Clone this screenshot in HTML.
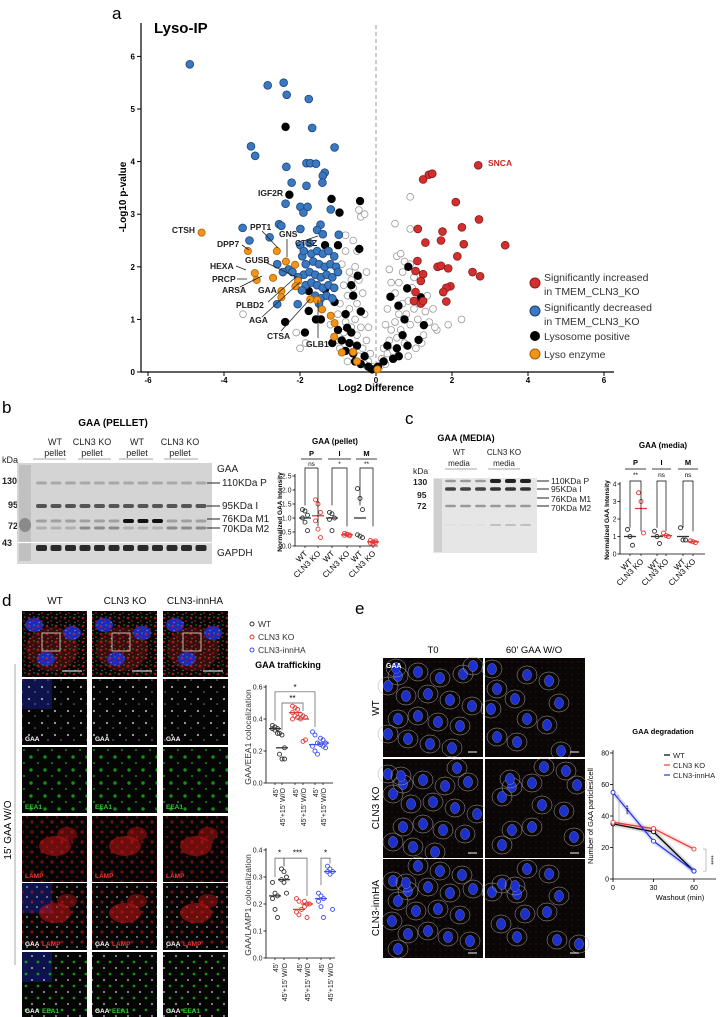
<!DOCTYPE html>
<html><head><meta charset="utf-8">
<style>
html,body{margin:0;padding:0;background:#fff;}
svg{display:block;font-family:"Liberation Sans",sans-serif;}
.b{font-weight:bold}
</style></head>
<body>
<svg id="fig" width="725" height="1017" viewBox="0 0 725 1017" xmlns="http://www.w3.org/2000/svg">
<defs>
  <pattern id="pRed" width="9" height="8" patternUnits="userSpaceOnUse"><circle cx="2" cy="2" r="1.3" fill="#e02020"/><circle cx="6" cy="5" r="1" fill="#b01818"/><circle cx="7" cy="1" r="0.7" fill="#4c4"/><circle cx="3" cy="6.5" r="0.6" fill="#ddd"/></pattern>
  <pattern id="pGreen" width="14" height="13" patternUnits="userSpaceOnUse"><circle cx="3" cy="3" r="1.7" fill="#19c019"/><circle cx="10" cy="9" r="1.1" fill="#13a013"/></pattern>
  <pattern id="pWhite" width="13" height="12" patternUnits="userSpaceOnUse"><circle cx="3" cy="3" r="1.1" fill="#cfcfcf"/><circle cx="9" cy="8" r="0.8" fill="#999"/></pattern>
  <pattern id="pLamp" width="10" height="10" patternUnits="userSpaceOnUse"><circle cx="2" cy="2" r="1.6" fill="#d31818"/><circle cx="7" cy="7" r="1.2" fill="#a51010"/></pattern>
  <pattern id="pMerge1" width="10" height="10" patternUnits="userSpaceOnUse"><circle cx="2" cy="2" r="1.5" fill="#d31818"/><circle cx="7" cy="7" r="1" fill="#ddd"/></pattern>
  <pattern id="pMerge2" width="12" height="12" patternUnits="userSpaceOnUse"><circle cx="2" cy="2" r="1.4" fill="#19c019"/><circle cx="8" cy="8" r="1" fill="#ddd"/></pattern>
  <pattern id="pCells" width="6" height="6" patternUnits="userSpaceOnUse"><circle cx="2" cy="2" r="0.5" fill="#7a3a3a"/></pattern>
</defs>

<!-- ================= PANEL A ================= -->
<text x="112" y="19" font-size="17">a</text>
<text x="154" y="33" font-size="15" class="b">Lyso-IP</text>
<line x1="141" y1="23" x2="141" y2="372" stroke="#000" stroke-width="1.2"/>
<line x1="141" y1="372" x2="614" y2="372" stroke="#000" stroke-width="1.2"/>
<line x1="376" y1="25" x2="376" y2="372" stroke="#aaa" stroke-width="1.2" stroke-dasharray="4,3"/>
<text transform="translate(126,197) rotate(-90)" font-size="10" class="b" text-anchor="middle">-Log10 p-value</text>
<text x="376" y="391" font-size="10" class="b" text-anchor="middle">Log2 Difference</text>
<g id="vAxes"></g>
<g id="vPoints"></g>
<g id="vLabels" font-size="8.5" font-weight="bold" fill="#222">
  <text x="283" y="196" text-anchor="end">IGF2R</text>
  <text x="195" y="233" text-anchor="end">CTSH</text>
  <text x="250" y="230">PPT1</text>
  <text x="279" y="237">GNS</text>
  <text x="295" y="246">CTSZ</text>
  <text x="217" y="247">DPP7</text>
  <text x="245" y="263">GUSB</text>
  <text x="210" y="269">HEXA</text>
  <text x="212" y="282">PRCP</text>
  <text x="222" y="293">ARSA</text>
  <text x="258" y="293">GAA</text>
  <text x="236" y="308">PLBD2</text>
  <text x="249" y="323">AGA</text>
  <text x="267" y="339">CTSA</text>
  <text x="306" y="347">GLB1</text>
  <text x="488" y="166" fill="#c62828">SNCA</text>
</g>
<g stroke="#222" stroke-width="0.8">
  <line x1="262" y1="231" x2="278" y2="248"/><line x1="287" y1="239" x2="287" y2="257"/><line x1="242" y1="245" x2="249" y2="250"/>
  <line x1="236" y1="266" x2="246" y2="270"/><line x1="237" y1="279" x2="247" y2="279"/><line x1="240" y1="287" x2="262" y2="276"/>
  <line x1="265" y1="262" x2="296" y2="277"/><line x1="268" y1="302" x2="297" y2="276"/><line x1="262" y1="317" x2="300" y2="282"/>
  <line x1="281" y1="331" x2="310" y2="299"/><line x1="318" y1="338" x2="318" y2="300"/><line x1="306" y1="240" x2="318" y2="236"/>
</g>
<g id="vLegend" font-size="10.5" fill="#333">
  <circle cx="535" cy="283" r="5" fill="#d32f2f" stroke="#8b1a1a"/>
  <text x="544" y="281">Significantly increased</text>
  <text x="544" y="295">in TMEM_CLN3_KO</text>
  <circle cx="535" cy="311" r="5" fill="#3a78c2" stroke="#1a3f70"/>
  <text x="544" y="311">Significantly decreased</text>
  <text x="544" y="325">in TMEM_CLN3_KO</text>
  <circle cx="535" cy="336" r="5" fill="#000"/>
  <text x="544" y="340">Lysosome positive</text>
  <circle cx="535" cy="354" r="5" fill="#f39317" stroke="#a65c00"/>
  <text x="544" y="358">Lyso enzyme</text>
</g>

<!-- ================= PANEL B ================= -->
<text x="2" y="413" font-size="17">b</text>
<text x="113" y="426" font-size="10" class="b" text-anchor="middle">GAA (PELLET)</text>
<g font-size="9" text-anchor="middle" fill="#222">
  <text x="55" y="445">WT</text><text x="55" y="456">pellet</text>
  <text x="92" y="445">CLN3 KO</text><text x="92" y="456">pellet</text>
  <text x="137" y="445">WT</text><text x="137" y="456">pellet</text>
  <text x="180" y="445">CLN3 KO</text><text x="180" y="456">pellet</text>
</g>
<g stroke="#888" stroke-width="0.8"><line x1="33" y1="459" x2="66" y2="459"/><line x1="78" y1="459" x2="111" y2="459"/><line x1="119" y1="459" x2="153" y2="459"/><line x1="164" y1="459" x2="198" y2="459"/></g>
<g font-size="9" fill="#222">
  <text x="2" y="463">kDa</text>
  <text x="2" y="484" class="b">130</text>
  <text x="8" y="508" class="b">95</text>
  <text x="8" y="529" class="b">72</text>
  <text x="2" y="546" class="b">43</text>
</g>
<g>
  <rect x="17" y="463" width="195" height="79" fill="#d4d4d4"/>
  <rect x="17" y="543" width="195" height="21" fill="#d8d8d8"/>
  <rect x="19" y="465" width="12" height="96" fill="#c0c0c0"/>
  <ellipse cx="25" cy="525" rx="6" ry="7" fill="#8a8a8a"/>
  <g id="pelletBands"></g>
</g>
<g font-size="10" fill="#222">
  <text x="217" y="472">GAA</text>
  <text x="222" y="486">110KDa P</text>
  <text x="222" y="509">95KDa I</text>
  <text x="222" y="522">76KDa M1</text>
  <text x="222" y="532">70KDa M2</text>
  <text x="217" y="556">GAPDH</text>
</g>
<g stroke="#222" stroke-width="1"><line x1="207" y1="483" x2="220" y2="483"/><line x1="207" y1="506" x2="220" y2="506"/><line x1="207" y1="519" x2="220" y2="519"/><line x1="207" y1="528" x2="220" y2="528"/></g>
<text x="335" y="444" font-size="8" class="b" text-anchor="middle">GAA (pellet)</text>
<g id="pelletPlot"></g>

<!-- ================= PANEL C ================= -->
<text x="405" y="424" font-size="17">c</text>
<text x="466" y="441" font-size="9" class="b" text-anchor="middle">GAA (MEDIA)</text>
<g font-size="8" text-anchor="middle" fill="#222">
  <text x="459" y="455">WT</text><text x="459" y="466">media</text>
  <text x="504" y="455">CLN3 KO</text><text x="504" y="466">media</text>
</g>
<g stroke="#888" stroke-width="0.8"><line x1="445" y1="469" x2="477" y2="469"/><line x1="488" y1="469" x2="520" y2="469"/></g>
<g font-size="8.5" fill="#222">
  <text x="413" y="474">kDa</text>
  <text x="413" y="485" class="b">130</text>
  <text x="417" y="498" class="b">95</text>
  <text x="417" y="509" class="b">72</text>
</g>
<g>
  <rect x="433" y="478" width="104" height="75" fill="#e6e6e6"/>
  <rect x="434" y="479" width="8" height="73" fill="#cfcfcf"/>
  <g id="mediaBands"></g>
</g>
<g font-size="8.5" fill="#222">
  <text x="551" y="484">110KDa P</text>
  <text x="551" y="492">95KDa I</text>
  <text x="551" y="502">76KDa M1</text>
  <text x="551" y="511">70KDa M2</text>
</g>
<g stroke="#222" stroke-width="1"><line x1="537" y1="481" x2="549" y2="481"/><line x1="537" y1="489" x2="549" y2="489"/><line x1="537" y1="498" x2="549" y2="498"/><line x1="537" y1="506" x2="549" y2="506"/></g>
<text x="663" y="448" font-size="8" class="b" text-anchor="middle">GAA (media)</text>
<g id="mediaPlot"></g>

<!-- ================= PANEL D ================= -->
<text x="2" y="606" font-size="17">d</text>
<g font-size="10" text-anchor="middle" fill="#111">
  <text x="55" y="604">WT</text>
  <text x="125" y="604">CLN3 KO</text>
  <text x="195" y="604">CLN3-innHA</text>
</g>
<line x1="15" y1="664" x2="15" y2="965" stroke="#aaa" stroke-width="1"/>
<text transform="translate(11,830) rotate(-90)" font-size="10" text-anchor="middle">15' GAA W/O</text>
<g id="micD"></g>
<g font-size="8.5" fill="#333">
  <circle cx="252" cy="624" r="2" fill="none" stroke="#333"/><text x="258" y="627">WT</text>
  <circle cx="252" cy="637" r="2" fill="none" stroke="#e53935"/><text x="258" y="640">CLN3 KO</text>
  <circle cx="252" cy="650" r="2" fill="none" stroke="#3d4ff0"/><text x="258" y="653">CLN3-innHA</text>
</g>
<text x="288" y="668" font-size="9" class="b" text-anchor="middle">GAA trafficking</text>
<g id="eeaPlot"></g>
<g id="lampPlot"></g>

<!-- ================= PANEL E ================= -->
<text x="355" y="614" font-size="17">e</text>
<text x="433" y="653" font-size="9.5" text-anchor="middle">T0</text>
<text x="534" y="653" font-size="9.5" text-anchor="middle">60' GAA W/O</text>
<text transform="translate(379,708) rotate(-90)" font-size="10" text-anchor="middle">WT</text>
<text transform="translate(379,808) rotate(-90)" font-size="10" text-anchor="middle">CLN3 KO</text>
<text transform="translate(379,908) rotate(-90)" font-size="10" text-anchor="middle">CLN3-innHA</text>
<g id="micE"></g>
<text x="386" y="668" font-size="7" fill="#fff" class="b">GAA</text>
<text x="663" y="734" font-size="7.5" class="b" text-anchor="middle">GAA degradation</text>
<g font-size="7.5" fill="#222">
  <line x1="664" y1="755" x2="670" y2="755" stroke="#000" stroke-width="1.2"/><text x="673" y="758">WT</text>
  <line x1="664" y1="765" x2="670" y2="765" stroke="#e53935" stroke-width="1.2"/><text x="673" y="768">CLN3 KO</text>
  <line x1="664" y1="775" x2="670" y2="775" stroke="#2233ee" stroke-width="1.2"/><text x="673" y="778">CLN3-innHA</text>
</g>
<g id="degPlot"></g>
</svg>

<script>
// ---------------- Volcano data ----------------
const blueX=[-4.9,-2.85,-2.43,-2.35,-1.77,-1.68,-3.29,-3.18,-1.09,-2.36,-1.83,-1.73,-1.58,-1.35,-1.4,-2.22,-1.83,-1.41,-2.38,-1.99,-1.8,-1.91,-1.19,-3.51,-2.55,-2.49,-3.33,-2.8,-1.99,-1.46,-0.98,-1.55,-1.4,-1.99,-1.94,-2.06,-2.6,
-1.9,-1.7,-1.55,-1.4,-1.25,-1.1,-1.85,-1.65,-1.5,-1.35,-1.2,-1.05,-1.9,-1.75,-1.6,-1.45,-1.3,-1.15,-1.0,-1.85,-1.7,-1.55,-1.4,-1.25,-1.1,-1.6,-1.45,-1.3,-1.15,-1.5,-2.3,-2.2,-2.05,-2.6,-2.45,-1.75,-1.95];
const blueY=[5.85,5.45,5.5,5.27,5.19,4.64,4.29,4.11,4.27,3.9,3.97,3.97,3.96,3.79,3.73,3.6,3.54,3.6,3.2,3.14,3.14,3.03,3.09,2.74,2.81,2.78,2.5,2.56,2.72,2.8,2.61,2.7,2.62,2.41,2.2,1.29,1.29,
2.3,2.25,2.3,2.25,2.3,2.2,2.05,2.1,2.05,2.0,2.05,2.0,1.85,1.9,1.85,1.8,1.85,1.8,1.9,1.65,1.7,1.65,1.6,1.65,1.6,1.45,1.4,1.45,1.4,1.3,1.95,1.9,1.8,2.05,1.9,2.45,1.55];
const redX=[2.69,1.24,1.39,1.48,2.1,2.71,1.1,1.75,2.26,1.3,1.71,2.31,3.4,2.14,1.09,1.62,1.71,1.9,2.54,2.74,1.24,1.18,1.04,1.96,1.85,1.77,1.04,1.85,1.0,1.18,1.24];
const redY=[3.93,3.66,3.75,3.77,3.23,2.9,2.72,2.67,2.75,2.46,2.5,2.43,2.41,2.2,2.11,2.0,2.02,1.97,1.9,1.82,1.86,1.73,1.92,1.63,1.6,1.52,1.52,1.34,1.35,1.3,1.35];
const blackX=[-2.38,-2.28,-1.17,-0.42,-0.96,-1.34,-1.0,-0.44,-1.34,-1.77,-1.09,-1.77,-2.39,-1.87,-1.58,-1.45,-0.76,0.85,0.82,1.18,0.38,0.59,0.75,1.26,1.12,0.83,-0.48,-0.6,-0.65,-0.4,-0.8,
-0.9,-0.8,-0.7,-0.6,-0.5,-0.55,-0.4,-0.3,-0.2,-0.1,0.05,0.2,0.3,0.45,0.55,0.6,0.7,-0.65,-1.0,-1.15];
const blackY=[4.66,3.37,3.29,3.25,3.03,2.41,2.41,2.34,1.57,1.54,1.33,1.16,0.95,0.75,1.0,1.0,0.84,2.0,1.59,1.42,1.43,1.26,1.0,0.89,0.61,0.5,1.83,1.45,1.65,1.15,1.1,
0.6,0.4,0.55,0.35,0.5,0.2,0.15,0.3,0.1,0.05,0.1,0.2,0.5,0.25,0.45,0.3,0.7,0.75,0.8,0.55];
const orangeX=[-4.59,-3.37,-2.61,-2.37,-2.13,-3.19,-3.14,-2.71,-2.05,-2.12,-2.49,-2.49,-1.73,-1.55,-1.42,-1.19,-1.09,-1.1,-0.9,-0.6,-0.5,0.04];
const orangeY=[2.65,2.3,2.3,2.1,2.04,1.88,1.75,1.79,1.73,1.63,1.54,1.42,1.38,1.37,1.19,1.07,0.93,0.67,0.37,0.38,0.2,0.05];
const greyX=[-0.1,-0.2,-0.15,-0.3,-0.35,-0.25,-0.45,-0.5,-0.4,-0.55,-0.6,-0.65,-0.7,-0.5,-0.75,-0.8,-0.85,-0.6,-0.45,-0.7,-0.9,-0.55,-0.8,-0.6,-0.5,-0.8,-0.4,-0.45,-0.3,-0.95,-1.0,-0.85,-0.3,-0.2,-0.35,-0.25,-1.05,-0.95,-1.2,-3.5,-2.1,-1.85,-2.0,-0.75,-0.65,
0.1,0.15,0.25,0.2,0.3,0.35,0.45,0.4,0.5,0.55,0.6,0.65,0.7,0.75,0.5,0.6,0.8,0.85,0.9,0.95,1.0,0.7,0.55,0.65,0.75,0.9,1.1,1.15,1.25,1.3,1.4,1.35,1.5,1.6,1.55,1.9,2.25,0.3,0.25,0.4,0.5,0.9,0.9,1.05,0.85,1.2,0.35,1.0];
const greyY=[0.1,0.2,0.35,0.15,0.45,0.6,0.3,0.7,0.85,1.0,0.5,0.85,1.2,1.3,1.45,0.95,1.65,1.6,1.75,1.9,2.05,2.0,2.3,2.5,2.3,2.6,2.95,3.08,3.0,1.3,1.1,0.75,1.1,0.85,1.5,1.9,0.6,0.45,0.9,1.1,0.75,0.55,0.45,0.2,1.75,
0.1,0.25,0.15,0.45,0.35,0.6,0.4,0.8,0.95,0.65,1.1,0.8,1.3,0.55,1.5,1.7,1.1,1.35,0.9,1.6,1.2,1.9,2.2,2.25,2.1,2.05,1.0,1.3,0.7,1.15,0.95,1.45,1.2,0.8,0.85,0.9,1.0,1.2,0.9,1.7,2.82,2.72,3.33,0.45,0.3,0.55,1.95,1.8];
const vTicksX=[-6,-4,-2,0,2,4,6];
const vTicksY=[0,1,2,3,4,5,6];

// ---------------- Pellet / media dot plot data ----------------
const pelletGroups=["P WT","P CLN3 KO","I WT","I CLN3 KO","M WT","M CLN3 KO"];
const pelletVals=[[1.3,1.25,1.1,1.0,0.85,0.55],[1.65,1.5,1.2,0.9,0.6,0.3],[1.2,1.15,1.0,0.95,0.55],[0.45,0.42,0.4,0.38,0.42,0.36],[2.05,1.7,1.3,0.4,0.35,0.3],[0.2,0.15,0.12,0.1,0.08,0.18]];
const pelletMeans=[1.0,1.08,1.0,0.4,1.0,0.15];
const pelletTicks=[0,0.5,1.0,1.5,2.0,2.5];
const mediaGroups=["P WT","P CLN3 KO","I WT","I CLN3 KO","M WT","M CLN3 KO"];
const mediaVals=[[1.4,1.0,0.5],[3.5,3.0,1.2],[1.3,1.0,0.6],[1.2,1.05,1.0],[1.5,0.8,0.8],[0.75,0.7,0.65]];
const mediaMeans=[1.0,2.6,1.0,1.05,1.0,0.7];
const mediaTicks=[0,1,2,3,4];

// ---------------- Colocalization data ----------------
const colocGroups=["WT 45'","WT 45'+15' W/O","KO 45'","KO 45'+15' W/O","innHA 45'","innHA 45'+15' W/O"];
const eeaVals=[[0.36,0.35,0.34,0.34,0.33,0.31],[0.31,0.3,0.22,0.18,0.15,0.15],[0.48,0.47,0.46,0.44,0.42,0.41,0.4],[0.43,0.42,0.41,0.4,0.26,0.27],[0.32,0.3,0.25,0.23,0.2,0.18],[0.28,0.27,0.25,0.24,0.23,0.22]];
const eeaMeans=[0.34,0.22,0.44,0.4,0.24,0.25];
const eeaTicks=[0,0.2,0.4,0.6];
const lampVals=[[0.28,0.24,0.23,0.22,0.18,0.15],[0.33,0.32,0.3,0.29,0.28,0.24],[0.22,0.21,0.18,0.17,0.16],[0.21,0.2,0.2,0.19,0.15],[0.24,0.23,0.22,0.21,0.19,0.15],[0.34,0.33,0.32,0.32,0.31,0.18]];
const lampMeans=[0.23,0.29,0.18,0.2,0.22,0.32];
const lampTicks=[0,0.1,0.2,0.3,0.4];

// ---------------- Degradation data ----------------
const washoutTimes=[0,30,60];
const degWT=[35,30,5];
const degKO=[36,32,19];
const degHA=[55,24,5];
const degTicksY=[0,20,40,60,80];
const degTicksX=[0,30,60];

const NS="http://www.w3.org/2000/svg";
function mk(tag,attrs,parent){const e=document.createElementNS(NS,tag);for(const k in attrs)e.setAttribute(k,attrs[k]);parent.appendChild(e);return e;}

// ---- Volcano ----
const vx=v=>376+38*v, vy=v=>372-52.6*v;
const vAx=document.getElementById('vAxes');
vTicksX.forEach(t=>{
  const l=mk('line',{x1:vx(t),y1:372,x2:vx(t),y2:376,stroke:'#000'},vAx);
  
  
  const tx=mk('text',{x:vx(t),y:383,'font-size':8,'font-weight':'bold','text-anchor':'middle'},vAx);tx.textContent=t;
  
  
});
vTicksY.forEach(t=>{
  const l=mk('line',{x1:137,y1:vy(t),x2:141,y2:vy(t),stroke:'#000'},vAx);
  
  
  const tx=mk('text',{x:135,y:vy(t)+3,'font-size':8,'font-weight':'bold','text-anchor':'end'},vAx);tx.textContent=t;
  
  
});
const vP=document.getElementById('vPoints');
function drawPts(xs,ys,fill,stroke,name,r){
  xs.forEach((x,i)=>{
    const c=mk('circle',{cx:vx(x),cy:vy(ys[i]),r:r,fill:fill,stroke:stroke,'stroke-width':0.8},vP);
    
    
  });
}
drawPts(greyX,greyY,'#fff','#9a9a9a','point-not-significant',3.4);
drawPts(blackX,blackY,'#000','#000','point-lysosome-positive',3.8);
drawPts(blueX,blueY,'#3a78c2','#1d467a','point-decreased',3.9);
drawPts(redX,redY,'#d32f2f','#8b1a1a','point-increased',3.9);
drawPts(orangeX,orangeY,'#f39317','#b06300','point-lyso-enzyme',3.6);

// ---- Blots (decorative) ----
const pb=document.getElementById('pelletBands');
for(let i=0;i<12;i++){
  const x=36+i*14.5;
  const wt=(i<3||(i>=6&&i<9));
  const strong=(i>=6&&i<9);
  [[483,'#a8a8a8',3],[506,'#555',4],[521,strong?'#111':'#a0a0a0',strong?4:3],[528,wt?'#b0b0b0':'#8a8a8a',3],[548,'#2a2a2a',6]].forEach(b=>{
    mk('rect',{x:x,y:b[0]-b[2]/2,width:11,height:b[2],rx:2,fill:b[1]},pb);
  });
}
mk('line',{x1:17,y1:542.5,x2:212,y2:542.5,stroke:'#fff','stroke-width':1.2},pb);
const mbd=document.getElementById('mediaBands');
for(let i=0;i<6;i++){
  const x=445+i*15;
  const ko=i>=3;
  [[481,ko?'#222':'#999',ko?4:2.5],[489,ko?'#333':'#444',3.5],[506,'#9a9a9a',2.5],[525,ko?'#c0c0c0':'#e0e0e0',2]].forEach(b=>{
    mk('rect',{x:x,y:b[0]-b[2]/2,width:11,height:b[2],rx:2,fill:b[1]},mbd);
  });
}

// ---- Dot plot helper ----
function dotPlot(gid,ax0,ax1,yTop,yBot,ymax,ticks,xs,vals,means,colors,tickFmt,name){
  const g=document.getElementById(gid);
  const sy=v=>yBot-(yBot-yTop)*v/ymax;
  mk('line',{x1:ax0,y1:yTop-2,x2:ax0,y2:yBot,stroke:'#000','stroke-width':0.8},g);
  mk('line',{x1:ax0,y1:yBot,x2:ax1,y2:yBot,stroke:'#000','stroke-width':0.8},g);
  ticks.forEach(t=>{
    mk('line',{x1:ax0-2.5,y1:sy(t),x2:ax0,y2:sy(t),stroke:'#000','stroke-width':0.8},g);
    const tx=mk('text',{x:ax0-3.5,y:sy(t)+2.5,'font-size':7,'text-anchor':'end',fill:'#222'},g);tx.textContent=tickFmt(t);
    
    
  });
  xs.forEach(x=>mk('line',{x1:x,y1:yBot,x2:x,y2:yBot+2,stroke:'#000','stroke-width':0.7},g));
  vals.forEach((arr,gi)=>{
    const col=colors[gi];
    arr.forEach((v,k)=>{
      const off=((k%3)-1)*2.5;
      const c=mk('circle',{cx:xs[gi]+off,cy:sy(v),r:2,fill:'none',stroke:col,'stroke-width':0.9},g);
      
      
    });
    const m=mk('line',{x1:xs[gi]-6,y1:sy(means[gi]),x2:xs[gi]+6,y2:sy(means[gi]),stroke:col,'stroke-width':1.3},g);
    
    
  });
  return {g,sy};
}
const grp6=['#333','#e53935','#333','#e53935','#333','#e53935'];
const pelletX=[305,318,332,347,360,373];
const pp=dotPlot('pelletPlot',295,378,476,546,2.5,pelletTicks,pelletX,pelletVals,pelletMeans,grp6,t=>t.toFixed(1),'pellet');
const mediaX=[630,641,657,666,683,693];
const mp=dotPlot('mediaPlot',620,705,484,554,4,mediaTicks,mediaX,mediaVals,mediaMeans,grp6,t=>t,'media');
const grpD=['#333','#333','#e53935','#e53935','#3d4ff0','#3d4ff0'];
const eX=[275,282,295,303,315,323];
const ep=dotPlot('eeaPlot',266,333,687,783,0.6,eeaTicks,eX,eeaVals,eeaMeans,grpD,t=>t.toFixed(1),'eea1');
const lX=[275,284,299,307,321,330];
const lp=dotPlot('lampPlot',266,335,850,958,0.4,lampTicks,lX,lampVals,lampMeans,grpD,t=>t.toFixed(1),'lamp1');

function txt(parent,x,y,s,attrs,name){const t=mk('text',Object.assign({x:x,y:y},attrs),parent);t.textContent=s;return t;}
const G=document.getElementById('fig');
txt(G,0,0,'Normalized GAA  Intensity',{transform:'translate(282,512) rotate(-90)','font-size':6.5,'font-weight':'bold','text-anchor':'middle'},'pellet-y-axis-title');
txt(G,0,0,'Normalized GAA  Intensity',{transform:'translate(609,520) rotate(-90)','font-size':6.5,'font-weight':'bold','text-anchor':'middle'},'media-y-axis-title');
[['pellet',pelletX,548],['media',mediaX,556]].forEach(([n,xs,yb])=>{
  xs.forEach((x,i)=>{
    txt(G,0,0,i%2?'CLN3 KO':'WT',{transform:`translate(${x+3},${yb+6}) rotate(-45)`,'font-size':8,'text-anchor':'end'},n+'-x-label');
  });
});
[['P','ns',305,318],['I','*',332,347],['M','**',360,373]].forEach(([h,s,a,b])=>{
  txt(G,(a+b)/2,456,h,{'font-size':7.5,'font-weight':'bold','text-anchor':'middle'},'pellet-group-header');
  mk('line',{x1:a-4,y1:459,x2:b+4,y2:459,stroke:'#000','stroke-width':0.7},G);
  txt(G,(a+b)/2,466,s,{'font-size':6.5,'text-anchor':'middle'},'pellet-significance');
  mk('path',{d:`M${a} ${pp.sy(1.45)} V468 H${b} V${pp.sy(0.7)}`,fill:'none',stroke:'#000','stroke-width':0.7},G);
});
[['P','**',630,641],['I','ns',657,666],['M','ns',683,693]].forEach(([h,s,a,b])=>{
  txt(G,(a+b)/2,465,h,{'font-size':7.5,'font-weight':'bold','text-anchor':'middle'},'media-group-header');
  mk('line',{x1:a-5,y1:469,x2:b+5,y2:469,stroke:'#000','stroke-width':0.7},G);
  txt(G,(a+b)/2,477,s,{'font-size':6.5,'text-anchor':'middle'},'media-significance');
  mk('path',{d:`M${a} ${mp.sy(1.5)} V481 H${b} V${mp.sy(1.3)}`,fill:'none',stroke:'#000','stroke-width':0.7},G);
});
txt(G,0,0,'GAA/EEA1 colocalization',{transform:'translate(251,737) rotate(-90)','font-size':8.5,'text-anchor':'middle',fill:'#333'},'eea1-y-axis-title');
txt(G,0,0,'GAA/LAMP1 colocalization',{transform:'translate(251,905) rotate(-90)','font-size':8.5,'text-anchor':'middle',fill:'#333'},'lamp1-y-axis-title');
[[eX,786],[lX,961]].forEach(([xs,yb],pi)=>{
  xs.forEach((x,i)=>{
    txt(G,0,0,i%2?"45'+15' W/O":"45'",{transform:`translate(${x+3},${yb+2}) rotate(-90)`,'font-size':7,'text-anchor':'end',fill:'#222'},(pi?'lamp1':'eea1')+'-x-label');
  });
});
mk('path',{d:`M${eX[0]} ${ep.sy(0.39)} V${ep.sy(0.57)} H${eX[4]} V${ep.sy(0.35)}`,fill:'none',stroke:'#555','stroke-width':0.7},G);
txt(G,(eX[0]+eX[4])/2,ep.sy(0.57)-2,'*',{'font-size':8,'text-anchor':'middle'},'eea1-significance');
mk('path',{d:`M${eX[1]} ${ep.sy(0.33)} V${ep.sy(0.5)} H${eX[3]} V${ep.sy(0.45)}`,fill:'none',stroke:'#555','stroke-width':0.7},G);
txt(G,(eX[1]+eX[3])/2,ep.sy(0.5)-2,'**',{'font-size':8,'text-anchor':'middle'},'eea1-significance');
mk('path',{d:`M${lX[0]} ${lp.sy(0.3)} V${lp.sy(0.37)} H${lX[1]} V${lp.sy(0.34)}`,fill:'none',stroke:'#555','stroke-width':0.7},G);
txt(G,(lX[0]+lX[1])/2,lp.sy(0.38),'*',{'font-size':8,'text-anchor':'middle'},'lamp1-significance');
mk('path',{d:`M${lX[1]} ${lp.sy(0.34)} V${lp.sy(0.37)} H${lX[3]} V${lp.sy(0.23)}`,fill:'none',stroke:'#555','stroke-width':0.7},G);
txt(G,(lX[1]+lX[3])/2+2,lp.sy(0.38),'***',{'font-size':8,'text-anchor':'middle'},'lamp1-significance');
mk('path',{d:`M${lX[4]} ${lp.sy(0.27)} V${lp.sy(0.37)} H${lX[5]} V${lp.sy(0.35)}`,fill:'none',stroke:'#555','stroke-width':0.7},G);
txt(G,(lX[4]+lX[5])/2,lp.sy(0.38),'*',{'font-size':8,'text-anchor':'middle'},'lamp1-significance');

// ---- Microscopy panel d (decorative) ----
const md=document.getElementById('micD');
const colX=[22,92,163], rows=[[611,66],[679,66],[747,66],[816,66],[883,67],[952,65]];
const fills=['pRed','pWhite','pGreen','pLamp','pMerge1','pMerge2'];
const fillOp=[0.7,0.8,0.75,0.55,0.6,0.75];
const chanLbl=[null,['GAA','#fff'],['EEA1','#3c3'],['LAMP','#e33'],['GAA','#fff','LAMP','#e33'],['GAA','#fff','EEA1','#3c3']];
rows.forEach((r,ri)=>{
  colX.forEach((x,ci)=>{
    const p=mk('rect',{x:x,y:r[0],width:65,height:r[1],fill:'#050505'},md);
    
    
    if(ri===0){
      mk('ellipse',{cx:x+30,cy:r[0]+38,rx:26,ry:22,fill:'#3a0d0d'},md);
      [[x+12,r[0]+14],[x+50,r[0]+22],[x+24,r[0]+48]].forEach(([a,b])=>mk('ellipse',{cx:a,cy:b,rx:9,ry:7,fill:'#1f28b8'},md));
    }
    if((ri===1||ri===4||ri===5)&&ci===0) mk('rect',{x:x,y:r[0],width:30,height:30,fill:'#101660',opacity:0.8},md);
    mk('rect',{x:x,y:r[0],width:65,height:r[1],fill:'url(#'+fills[ri]+')',opacity:fillOp[ri]},md);
    if(ri===3||ri===4){
      mk('ellipse',{cx:x+33,cy:r[0]+30,rx:16,ry:10,fill:'#c41414',opacity:0.55},md);
      mk('ellipse',{cx:x+45,cy:r[0]+18,rx:10,ry:7,fill:'#c41414',opacity:0.45},md);
    }
    if(ri===0) mk('rect',{x:x+20,y:r[0]+22,width:18,height:18,fill:'none',stroke:'#ddd','stroke-width':0.8},md);
    if(ri===0) mk('line',{x1:x+40,y1:r[0]+60,x2:x+60,y2:r[0]+60,stroke:'#fff','stroke-width':1},md);
    const L=chanLbl[ri];
    if(L){
      txt(md,x+3,r[0]+r[1]-4,L[0],{'font-size':6.5,'font-weight':'bold',fill:L[1]},'channel-label');
      if(L[2]) txt(md,x+20,r[0]+r[1]-4,L[2],{'font-size':6.5,'font-weight':'bold',fill:L[3]},'channel-label');
    }
  });
});

// ---- Microscopy panel e (decorative) ----
const me=document.getElementById('micE');
const eCols=[383,485], eRows=[658,759,859];
const nuc=[[10,12],[30,8],[52,14],[75,10],[90,22],[18,32],[40,30],[62,36],[84,42],[10,55],[30,52],[50,58],[72,62],[90,70],[20,75],[42,80],[64,84],[85,90],[8,92]];
eRows.forEach((y,ri)=>{
  eCols.forEach((x,ci)=>{
    const p=mk('rect',{x:x,y:y,width:100,height:99,fill:'#0b0606'},me);
    
    
    mk('rect',{x:x,y:y,width:100,height:99,fill:'url(#pCells)',opacity:0.6},me);
    nuc.forEach(([a,b],k)=>{
      if(ci===1 && (k+ri)%3===0) return;
      const cx=x+((a+ci*7+ri*5)%90)+5, cy=y+((b+ri*7+ci*3)%88)+6;
      mk('ellipse',{cx:cx,cy:cy,rx:10,ry:9,fill:'none',stroke:'#aaa','stroke-width':0.5},me);
      mk('ellipse',{cx:cx,cy:cy,rx:4.5,ry:5.5,fill:'#1c2fcf',stroke:'#99a','stroke-width':0.4},me);
    });
    mk('line',{x1:x+85,y1:y+94,x2:x+94,y2:y+94,stroke:'#ccc','stroke-width':1.2},me);
  });
});

// ---- Degradation line chart ----
const dg=document.getElementById('degPlot');
const dx=t=>613+t*(694-613)/60, dy=v=>879-v*(879-753)/80;
mk('line',{x1:613,y1:750,x2:613,y2:879,stroke:'#000','stroke-width':0.8},dg);
mk('line',{x1:613,y1:879,x2:716,y2:879,stroke:'#000','stroke-width':0.8},dg);
degTicksY.forEach(t=>{
  mk('line',{x1:610,y1:dy(t),x2:613,y2:dy(t),stroke:'#000','stroke-width':0.8},dg);
  txt(dg,609,dy(t)+2.5,String(t),{'font-size':7,'text-anchor':'end'},'deg-y-tick-label');
});
degTicksX.forEach(t=>{
  mk('line',{x1:dx(t),y1:879,x2:dx(t),y2:882,stroke:'#000','stroke-width':0.8},dg);
  txt(dg,dx(t),890,String(t),{'font-size':7,'text-anchor':'middle'},'deg-x-tick-label');
});
txt(dg,680,900,'Washout (min)',{'font-size':7.5,'text-anchor':'middle'},'deg-x-axis-title');
txt(dg,0,0,'Number of GAA particles/cell',{transform:'translate(593,816) rotate(-90)','font-size':7.5,'text-anchor':'middle'},'deg-y-axis-title');
[[degWT,'#000','wt'],[degKO,'#e53935','cln3-ko'],[degHA,'#2233ee','cln3-innha']].forEach(([vals,col,n])=>{
  const pts=washoutTimes.map((t,i)=>dx(t)+','+dy(vals[i])).join(' ');
  mk('polyline',{points:pts,fill:'none',stroke:col,'stroke-width':5,opacity:0.15},dg);
  const l=mk('polyline',{points:pts,fill:'none',stroke:col,'stroke-width':1.3},dg);
  
  
  washoutTimes.forEach((t,i)=>{
    const c=mk('circle',{cx:dx(t),cy:dy(vals[i]),r:2,fill:'#fff',stroke:col,'stroke-width':0.9},dg);
    
    
  });
});
mk('path',{d:`M617 ${dy(53)} H619 V${dy(36)} H617`,fill:'none',stroke:'#999','stroke-width':0.6},dg);
txt(dg,0,0,'****',{transform:`translate(624,${dy(44)}) rotate(90)`,'font-size':6,'text-anchor':'middle'},'deg-significance');
mk('path',{d:`M703 ${dy(19)} H706 V${dy(5)} H703`,fill:'none',stroke:'#999','stroke-width':0.6},dg);
txt(dg,0,0,'****',{transform:`translate(709,${dy(12)}) rotate(90)`,'font-size':6,'text-anchor':'middle'},'deg-significance');
</script>
</body></html>
